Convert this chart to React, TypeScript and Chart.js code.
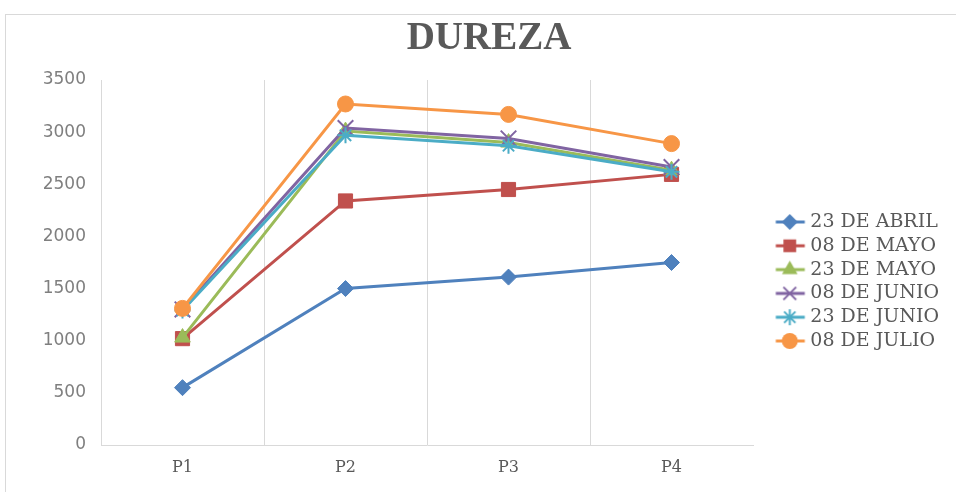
import React, { useEffect, useRef } from 'react';
import { Chart, registerables } from 'chart.js';

Chart.register(...registerables);

// ---- data ----
const categories = ['P1', 'P2', 'P3', 'P4'];
const seriesLabels = ['23 DE ABRIL', '08 DE MAYO', '23 DE MAYO', '08 DE JUNIO', '23 DE JUNIO', '08 DE JULIO'];
const abril23 = [550, 1500, 1610, 1750];
const mayo08 = [1020, 2340, 2450, 2595];
const mayo23 = [1030, 3010, 2900, 2635];
const junio08 = [1300, 3040, 2940, 2665];
const junio23 = [1290, 2970, 2870, 2620];
const julio08 = [1310, 3270, 3170, 2890];
const yMin = 0;
const yMax = 3500;
const yStep = 500;
const titleText = 'DUREZA';

// ---- styles ----
const seriesValues = [abril23, mayo08, mayo23, junio08, junio23, julio08];
const colors = ['#4F81BD', '#C0504D', '#9BBB59', '#8064A2', '#4BACC6', '#F79646'];
const pointStyles = ['rectRot', 'rect', 'triangle', 'crossRot', 'star', 'circle'];
const pointRadii = [8, 10, 9, 11, 8, 8];

const W = 956;
const H = 492;
const LEGEND_FONT = 19;
const LEGEND_PAD = 4.8;
const LEGEND_BOX = 43;
const PLOT_RIGHT = 753;
const PLOT_BOTTOM = 445;
const LAYOUT_BOTTOM = 9;

function makeIcon(color: string, style: string, r: number) {
  const c = document.createElement('canvas');
  c.width = 60;
  c.height = 24;
  const ctx = c.getContext('2d')!;
  const cy = 12;
  const cx = 40.5;
  ctx.strokeStyle = color;
  ctx.fillStyle = color;
  ctx.lineWidth = 3;
  ctx.beginPath();
  ctx.moveTo(26.5, cy);
  ctx.lineTo(55.5, cy);
  ctx.stroke();
  ctx.beginPath();
  if (style === 'rectRot') {
    ctx.moveTo(cx - r, cy);
    ctx.lineTo(cx, cy - r);
    ctx.lineTo(cx + r, cy);
    ctx.lineTo(cx, cy + r);
    ctx.closePath();
    ctx.fill();
  } else if (style === 'rect') {
    const s = r * Math.SQRT1_2;
    ctx.rect(cx - s, cy - s, 2 * s, 2 * s);
    ctx.fill();
  } else if (style === 'triangle') {
    ctx.moveTo(cx, cy - r);
    ctx.lineTo(cx + Math.sin((2 * Math.PI) / 3) * r, cy - Math.cos((2 * Math.PI) / 3) * r);
    ctx.lineTo(cx + Math.sin((4 * Math.PI) / 3) * r, cy - Math.cos((4 * Math.PI) / 3) * r);
    ctx.closePath();
    ctx.fill();
  } else if (style === 'crossRot') {
    const s = r * Math.SQRT1_2;
    ctx.lineWidth = 2;
    ctx.moveTo(cx - s, cy - s);
    ctx.lineTo(cx + s, cy + s);
    ctx.moveTo(cx - s, cy + s);
    ctx.lineTo(cx + s, cy - s);
    ctx.stroke();
  } else if (style === 'star') {
    const s = r * Math.SQRT1_2;
    ctx.lineWidth = 2;
    ctx.moveTo(cx, cy - r);
    ctx.lineTo(cx, cy + r);
    ctx.moveTo(cx - r, cy);
    ctx.lineTo(cx + r, cy);
    ctx.moveTo(cx - s, cy - s);
    ctx.lineTo(cx + s, cy + s);
    ctx.moveTo(cx - s, cy + s);
    ctx.lineTo(cx + s, cy - s);
    ctx.stroke();
  } else {
    ctx.arc(cx, cy, r, 0, Math.PI * 2);
    ctx.fill();
  }
  return c;
}

export default function App() {
  const ref = useRef<HTMLCanvasElement | null>(null);

  useEffect(() => {
    if (!ref.current) return;
    const measure = document.createElement('canvas').getContext('2d')!;
    measure.font = `${LEGEND_FONT}px "DejaVu Serif"`;
    const textW = Math.max(...seriesLabels.map((t) => measure.measureText(t).width));
    const legendWidth = LEGEND_PAD + LEGEND_BOX + LEGEND_FONT / 2 + textW + 10;
    const rightPad = Math.max(0, W - PLOT_RIGHT - legendWidth);

    const icons = seriesLabels.map((_, i) =>
      makeIcon(colors[i], pointStyles[i], i === 3 ? 9 : pointRadii[i] * (i === 1 ? 0.9 : 1))
    );

    const datasets = seriesLabels.map((label, i) => ({
      label,
      data: seriesValues[i],
      borderColor: colors[i],
      backgroundColor: colors[i],
      borderWidth: 3,
      pointStyle: pointStyles[i] as any,
      pointRadius: pointRadii[i],
      pointBorderWidth: pointStyles[i] === 'crossRot' || pointStyles[i] === 'star' ? 2 : 1,
      pointBackgroundColor: colors[i],
      pointBorderColor: colors[i],
      tension: 0,
      order: seriesLabels.length - i,
    }));

    const chart = new Chart(ref.current, {
      type: 'line',
      data: { labels: categories, datasets },
      options: {
        responsive: false,
        animation: false,
        devicePixelRatio: 1,
        layout: { padding: { top: 80, bottom: LAYOUT_BOTTOM, left: 0, right: rightPad } },
        plugins: {
          title: { display: false },
          tooltip: { enabled: false },
          legend: {
            position: 'right',
            align: 'center',
            labels: {
              usePointStyle: true,
              pointStyleWidth: LEGEND_BOX,
              padding: LEGEND_PAD,
              color: '#595959',
              font: { family: 'DejaVu Serif', size: LEGEND_FONT },
              generateLabels: (ch: any) =>
                ch.data.datasets.map((ds: any, i: number) => ({
                  text: ds.label,
                  fillStyle: ds.backgroundColor,
                  strokeStyle: ds.borderColor,
                  lineWidth: 0,
                  pointStyle: icons[i],
                  hidden: false,
                  datasetIndex: i,
                  fontColor: '#595959',
                })),
            },
          },
        },
        scales: {
          x: {
            offset: true,
            grid: {
              offset: true,
              drawTicks: false,
              lineWidth: 1,
              color: (c: any) => (c.type === 'tick' && c.index > 0 ? '#d9d9d9' : 'rgba(0,0,0,0)'),
            },
            border: { display: true, color: '#d9d9d9', width: 1 },
            ticks: {
              padding: 13,
              color: '#595959',
              font: { family: 'DejaVu Serif', size: 16 },
            },
            afterFit: (s: any) => {
              s.height = H - LAYOUT_BOTTOM - PLOT_BOTTOM;
            },
          },
          y: {
            min: yMin,
            max: yMax,
            grid: { display: false, drawTicks: false },
            border: { display: true, color: '#d9d9d9', width: 1 },
            ticks: {
              stepSize: yStep,
              padding: 15,
              color: '#7f7f7f',
              font: { family: 'DejaVu Sans', size: 17 },
              callback: (v: any) => String(v),
            },
            afterFit: (s: any) => {
              s.width = 101;
            },
          },
        },
      },
    });
    return () => chart.destroy();
  }, []);

  return (
    <div style={{ position: 'absolute', left: 0, top: 0, width: W, height: H, overflow: 'hidden', background: '#ffffff' }}>
      <div
        style={{
          position: 'absolute',
          left: 5,
          top: 14,
          width: 1000,
          height: 1000,
          border: '1px solid #d9d9d9',
          boxSizing: 'border-box',
        }}
      />
      <canvas ref={ref} width={W} height={H} style={{ position: 'absolute', left: 0, top: 0, width: W, height: H }} />
      <div
        style={{
          position: 'absolute',
          left: 0,
          top: 16,
          width: 978,
          textAlign: 'center',
          fontFamily: '"Liberation Serif", serif',
          fontWeight: 'bold',
          fontSize: 39,
          lineHeight: '39px',
          color: '#595959',
          pointerEvents: 'none',
        }}
      >
        {titleText}
      </div>
    </div>
  );
}
